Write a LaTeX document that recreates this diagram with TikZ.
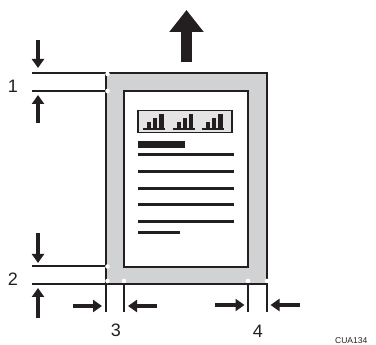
\documentclass[tikz,border=0pt]{standalone}
\usepackage{fontspec}
\setmainfont{Liberation Sans}
\usetikzlibrary{arrows.meta}
\definecolor{ink}{HTML}{231F20}
\definecolor{paper}{HTML}{D1D2D4}
\definecolor{chartbg}{HTML}{E4E4E5}
\tikzset{
  dimline/.style={draw=ink, line width=2pt},
  dimarrow/.style={draw=ink, line width=4pt, -{Triangle[width=12pt,length=9pt]}},
  bigarrow/.style={draw=ink, line width=11pt, -{Triangle[width=33pt,length=22pt]}},
  notch/.style={fill=white, draw=none},
  textline/.style={draw=ink, line width=2.7pt},
  lbl/.style={font=\fontsize{18}{18}\selectfont, text=ink, inner sep=0pt},
  code/.style={font=\fontsize{8.5}{8.5}\selectfont, text=ink, inner sep=0pt, anchor=base west},
}
\begin{document}
\begin{tikzpicture}[x=1pt,y=-1pt]
\useasboundingbox (0,0) rectangle (376,345);
% page
\draw[draw=ink, fill=paper, line width=2pt] (106,73) coordinate (oTL) rectangle (267,284) coordinate (oBR);
\draw[draw=ink, fill=white, line width=2pt] (124,91) coordinate (iTL) rectangle (248,267) coordinate (iBR);
% chart box
\draw[draw=ink, fill=chartbg, line width=1.3pt] (138,110.5) rectangle (232,132.5);
\foreach \dx in {0,29.5,59}{
  \draw[ink, line width=1.2pt] (143+\dx,129) -- (165+\dx,129);
  \fill[ink] (147+\dx,129) rectangle (151+\dx,122.5);
  \fill[ink] (153+\dx,129) rectangle (157+\dx,118.5);
  \fill[ink] (159+\dx,129) rectangle (163.5+\dx,114);
}
% text
\fill[ink] (138,141.3) rectangle (185,147.7);
\foreach \yy in {154.3,171.3,188.3,204.3,221.3}{
  \draw[textline] (138,\yy) -- (234,\yy);
}
\draw[textline] (138,232.3) -- (180,232.3);
% notches
\foreach \p in {(107.5,74),(107.5,91),(107.5,266.5),(107.5,281),(124,281),(248,281),(267,281)}{
  \fill[notch] \p circle (2.3);
}
% dimension 1
\coordinate (d1a) at (32,73);  \coordinate (d1ae) at (105,73);
\coordinate (d1b) at (32,91);  \coordinate (d1be) at (105,91);
\draw[dimline] (d1a) -- (d1ae);
\draw[dimline] (d1b) -- (d1be);
\coordinate (a1s) at (38,40);  \coordinate (a1t) at (38,68);
\coordinate (a2s) at (38,123); \coordinate (a2t) at (38,95);
\draw[dimarrow] (a1s) -- (a1t);
\draw[dimarrow] (a2s) -- (a2t);
\node[lbl] (l1) at (13,86) {1};
% dimension 2
\coordinate (d2a) at (32,266.5); \coordinate (d2ae) at (105,266.5);
\coordinate (d2b) at (32,284.5); \coordinate (d2be) at (106,284.5);
\draw[dimline] (d2a) -- (d2ae);
\draw[dimline] (d2b) -- (d2be);
\coordinate (b1s) at (38,233);  \coordinate (b1t) at (38,263);
\coordinate (b2s) at (38,318);  \coordinate (b2t) at (38,288);
\draw[dimarrow] (b1s) -- (b1t);
\draw[dimarrow] (b2s) -- (b2t);
\node[lbl] (l2) at (13,279) {2};
% dimension 3
\coordinate (v3a) at (106,283.5); \coordinate (v3ae) at (106,312);
\coordinate (v3b) at (124,283.5); \coordinate (v3be) at (124,312);
\draw[dimline] (v3a) -- (v3ae);
\draw[dimline] (v3b) -- (v3be);
\coordinate (c1s) at (73,306);  \coordinate (c1t) at (102,306);
\coordinate (c2s) at (157,306); \coordinate (c2t) at (128,306);
\draw[dimarrow] (c1s) -- (c1t);
\draw[dimarrow] (c2s) -- (c2t);
\node[lbl] (l3) at (116,330) {3};
% dimension 4
\coordinate (v4a) at (248,283.5); \coordinate (v4ae) at (248,312);
\coordinate (v4b) at (267,283.5); \coordinate (v4be) at (267,312);
\draw[dimline] (v4a) -- (v4ae);
\draw[dimline] (v4b) -- (v4be);
\coordinate (e1s) at (215,305); \coordinate (e1t) at (244.5,305);
\coordinate (e2s) at (300,305); \coordinate (e2t) at (270.5,305);
\draw[dimarrow] (e1s) -- (e1t);
\draw[dimarrow] (e2s) -- (e2t);
\node[lbl] (l4) at (258,331) {4};
% feed direction
\coordinate (fs) at (186.5,62); \coordinate (ft) at (186.5,10);
\draw[bigarrow] (fs) -- (ft);
% code
\node[code] (cc) at (335,343.2) {CUA134};
\end{tikzpicture}
\end{document}
